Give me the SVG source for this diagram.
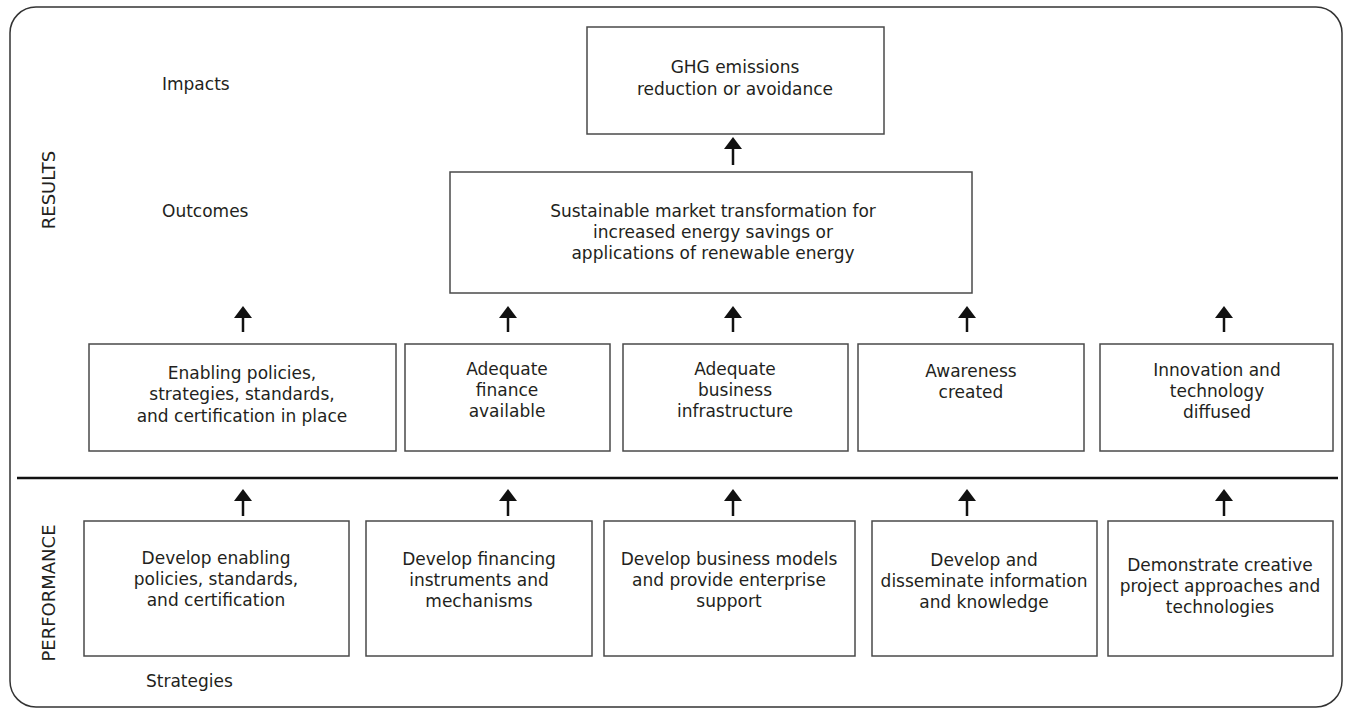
<svg xmlns="http://www.w3.org/2000/svg" width="1351" height="713" viewBox="0 0 1351 713">
<defs>
<style>
.box{fill:#fff;stroke:#4a4a4a;stroke-width:1.5}
.t{font-family:"DejaVu Sans","Liberation Sans",sans-serif;font-size:17px;fill:#231f20;text-anchor:middle}
.lbl{font-family:"DejaVu Sans","Liberation Sans",sans-serif;font-size:17px;fill:#231f20}
.side{font-family:"DejaVu Sans","Liberation Sans",sans-serif;font-size:18px;fill:#231f20;text-anchor:middle}
.arr{stroke:#111;stroke-width:2.5;fill:none;marker-end:url(#ah)}
</style>
<marker id="ah" viewBox="0 0 12 18" refX="8" refY="9" markerWidth="12" markerHeight="18" markerUnits="userSpaceOnUse" orient="auto">
<path d="M0,0 L12,9 L0,18 Z" fill="#111"/>
</marker>
</defs>
<rect x="10" y="7" width="1332" height="700" rx="26" ry="26" fill="#fff" stroke="#333" stroke-width="1.5"/>
<line x1="17" y1="478" x2="1338" y2="478" stroke="#111" stroke-width="2.5"/>
<g id="labels">
<text class="lbl" x="162" y="90">Impacts</text>
<text class="lbl" x="162" y="217">Outcomes</text>
<text class="lbl" x="146" y="687">Strategies</text>
<text class="side" transform="translate(55,190) rotate(-90)">RESULTS</text>
<text class="side" transform="translate(55,593) rotate(-90)">PERFORMANCE</text>
</g>
<g id="impact">
<rect class="box" x="587" y="27" width="297" height="107"/>
<text class="t" x="735" y="73">GHG emissions</text>
<text class="t" x="735" y="95">reduction or avoidance</text>
</g>
<g id="outcome">
<rect class="box" x="450" y="172" width="522" height="121"/>
<text class="t" x="713" y="217">Sustainable market transformation for</text>
<text class="t" x="713" y="238">increased energy savings or</text>
<text class="t" x="713" y="259">applications of renewable energy</text>
</g>
<g id="out1">
<rect class="box" x="89" y="344" width="307" height="107"/>
<text class="t" x="242" y="379">Enabling policies,</text>
<text class="t" x="242" y="400">strategies, standards,</text>
<text class="t" x="242" y="422">and certification in place</text>
</g>
<g id="out2">
<rect class="box" x="405" y="344" width="205" height="107"/>
<text class="t" x="507" y="375">Adequate</text>
<text class="t" x="507" y="396">finance</text>
<text class="t" x="507" y="417">available</text>
</g>
<g id="out3">
<rect class="box" x="623" y="344" width="225" height="107"/>
<text class="t" x="735" y="375">Adequate</text>
<text class="t" x="735" y="396">business</text>
<text class="t" x="735" y="417">infrastructure</text>
</g>
<g id="out4">
<rect class="box" x="858" y="344" width="226" height="107"/>
<text class="t" x="971" y="377">Awareness</text>
<text class="t" x="971" y="398">created</text>
</g>
<g id="out5">
<rect class="box" x="1100" y="344" width="233" height="107"/>
<text class="t" x="1217" y="376">Innovation and</text>
<text class="t" x="1217" y="397">technology</text>
<text class="t" x="1217" y="418">diffused</text>
</g>
<g id="str1">
<rect class="box" x="84" y="521" width="265" height="135"/>
<text class="t" x="216" y="564">Develop enabling</text>
<text class="t" x="216" y="585">policies, standards,</text>
<text class="t" x="216" y="606">and certification</text>
</g>
<g id="str2">
<rect class="box" x="366" y="521" width="226" height="135"/>
<text class="t" x="479" y="565">Develop financing</text>
<text class="t" x="479" y="586">instruments and</text>
<text class="t" x="479" y="607">mechanisms</text>
</g>
<g id="str3">
<rect class="box" x="604" y="521" width="251" height="135"/>
<text class="t" x="729" y="565">Develop business models</text>
<text class="t" x="729" y="586">and provide enterprise</text>
<text class="t" x="729" y="607">support</text>
</g>
<g id="str4">
<rect class="box" x="872" y="521" width="225" height="135"/>
<text class="t" x="984" y="566">Develop and</text>
<text class="t" x="984" y="587">disseminate information</text>
<text class="t" x="984" y="608">and knowledge</text>
</g>
<g id="str5">
<rect class="box" x="1108" y="521" width="225" height="135"/>
<text class="t" x="1220" y="571">Demonstrate creative</text>
<text class="t" x="1220" y="592">project approaches and</text>
<text class="t" x="1220" y="613">technologies</text>
</g>
<g id="connectors">
<path class="arr" d="M733,165 V141"/>
<path class="arr" d="M243,332 V310"/>
<path class="arr" d="M508,332 V310"/>
<path class="arr" d="M733,332 V310"/>
<path class="arr" d="M967,332 V310"/>
<path class="arr" d="M1224,332 V310"/>
<path class="arr" d="M243,516 V493"/>
<path class="arr" d="M508,516 V493"/>
<path class="arr" d="M733,516 V493"/>
<path class="arr" d="M967,516 V493"/>
<path class="arr" d="M1224,516 V493"/>
</g>
</svg>
